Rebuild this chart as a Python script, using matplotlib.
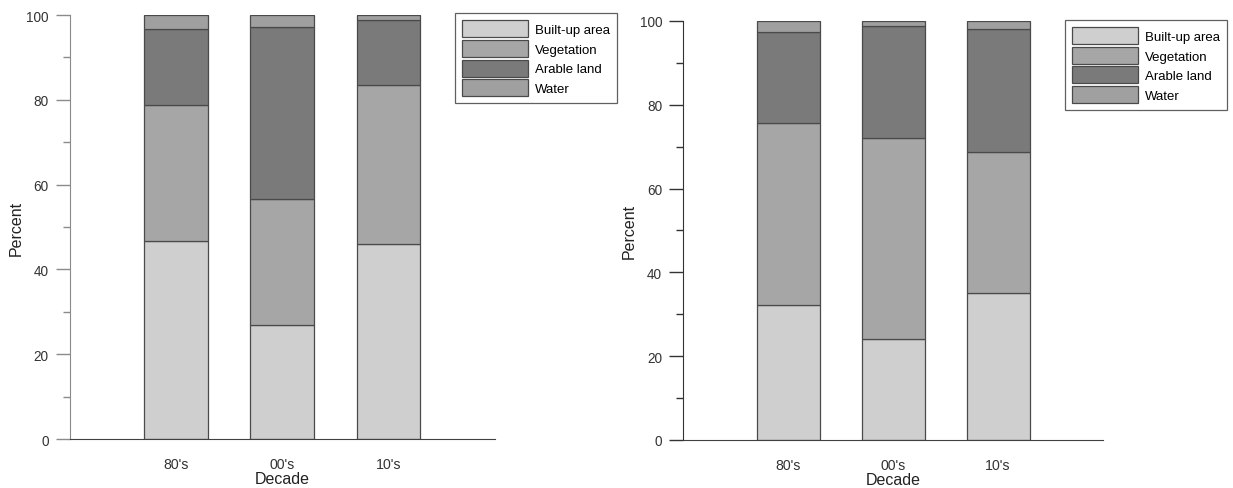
import matplotlib.pyplot as plt
import numpy as np

plt.rcParams['font.family'] = ['Liberation Sans', 'DejaVu Sans']

decades = ["80's", "00's", "10's"]
classes = ["Built-up area", "Vegetation", "Arable land", "Water"]
colors = ["#cfcfcf", "#a6a6a6", "#7a7a7a", "#a0a0a0"]

# percent share of each land class, left and right panels
left_built = [46.8, 27.0, 46.0]
left_veg = [32.0, 29.7, 37.4]
left_arable = [17.9, 40.5, 15.4]
left_water = [3.3, 2.8, 1.2]

right_built = [32.3, 24.1, 35.1]
right_veg = [43.4, 47.9, 33.7]
right_arable = [21.6, 26.7, 29.3]
right_water = [2.7, 1.3, 1.9]

fig = plt.figure(figsize=(12.33, 4.89), dpi=100)
ax1 = fig.add_axes([0.0564, 0.1002, 0.345, 0.867])
ax2 = fig.add_axes([0.554, 0.0982, 0.3406, 0.857])


def draw(ax, series, spine_col, leg_anchor):
    x = np.arange(1, len(decades) + 1)
    bottom = np.zeros(len(decades))
    for vals, name, col in zip(series, classes, colors):
        ax.bar(x, vals, 0.6, bottom=bottom, color=col, edgecolor="#4a4a4a",
               linewidth=0.9, label=name)
        bottom += np.array(vals)
    ax.set_xlim(0, 4)
    ax.set_ylim(0, 100)
    ax.set_xticks(x)
    ax.set_xticklabels(decades)
    ax.set_yticks(range(0, 101, 20))
    ax.set_yticks(range(10, 100, 20), minor=True)
    ax.tick_params(axis="y", which="major", length=10, width=1, color=spine_col,
                   labelsize=9.8, labelcolor="#333333", pad=5)
    ax.tick_params(axis="y", which="minor", length=5, width=1, color=spine_col)
    ax.tick_params(axis="x", length=0, labelsize=10.2, labelcolor="#333333", pad=13)
    for s in ["top", "right"]:
        ax.spines[s].set_visible(False)
    ax.spines["left"].set_color(spine_col)
    ax.spines["bottom"].set_color("#404040")
    ax.set_xlabel("Decade", fontsize=11.5, color="#222222", labelpad=0)
    ax.set_ylabel("Percent", fontsize=11.5, color="#222222", labelpad=2)
    leg = ax.legend(loc="upper left", bbox_to_anchor=leg_anchor,
                    bbox_transform=fig.transFigure, fontsize=9.5,
                    fancybox=False, edgecolor="#606060", framealpha=1,
                    handlelength=5.0, handleheight=1.6, labelspacing=0.2,
                    handletextpad=0.5, borderpad=0.55, borderaxespad=0)
    leg.get_frame().set_linewidth(0.9)


draw(ax1, [left_built, left_veg, left_arable, left_water], "#8a8a8a", (0.369, 0.971))
draw(ax2, [right_built, right_veg, right_arable, right_water], "#333333", (0.8637, 0.957))

fig.savefig("out.png", dpi=100)
